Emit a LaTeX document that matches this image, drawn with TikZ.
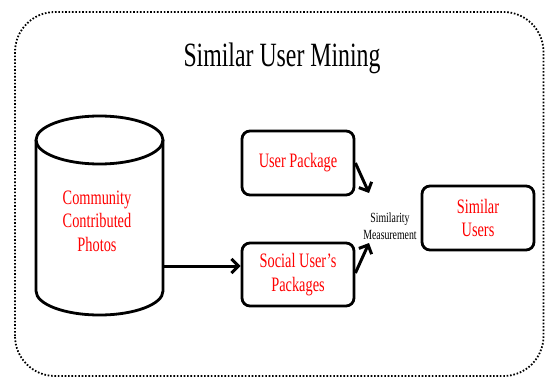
\documentclass[tikz,border=0pt]{standalone}
\usepackage{fontspec}
\setmainfont{Liberation Serif}[FakeStretch=0.7]
\usetikzlibrary{arrows.meta}
\begin{document}
\begin{tikzpicture}[x=1pt,y=1pt,
  box/.style={draw, line width=2.8pt, rounded corners=8pt, minimum width=112pt, minimum height=64pt, inner sep=0pt, align=center, text=red, font=\fontsize{20.5}{23.5}\selectfont},
  arr/.style={line width=3pt, -{Straight Barb[length=7pt,width=14pt]}},
  outer/.style={line width=1.8pt, dash pattern=on 1.6pt off 1.8pt, rounded corners=40pt}
]
\useasboundingbox (0,0) rectangle (545,378);
\draw[outer] (15,2) rectangle (543.5,366);
\node[anchor=base, font=\fontsize{34}{40}\selectfont] (title) at (282,311) {Similar User Mining};
% cylinder
\draw[line width=2.8pt] (36,238) -- (36,87) arc[start angle=180, end angle=360, x radius=63.5, y radius=24] -- (163,238);
\draw[line width=2.8pt] (99.5,238) ellipse [x radius=63.5, y radius=24];
\node[minimum width=127pt, minimum height=151pt, inner sep=0pt] (cyl) at (99.5,162.5) {};
\node[align=center, text=red, font=\fontsize{20.5}{23.5}\selectfont] (db) at (97,157) {Community\\Contributed\\Photos};
\node[box] (up) at (298,215) {User Package};
\node[box, minimum height=63pt] (social) at (298,103.5) {Social User's\\Packages};
\node[box] (sim) at (478,160) {Similar\\Users};
\node[align=center, font=\fontsize{14}{17}\selectfont, inner sep=0pt] (meas) at (390,151.5) {Similarity\\Measurement};
\coordinate (m1) at (369,185);
\coordinate (m2) at (369,135);
\draw[arr] (cyl.east |- 0,112) -- (social.west |- 0,112);
\draw[arr] (up.east |- 0,215) -- (m1);
\draw[arr] (social.east |- 0,105) -- (m2);
\end{tikzpicture}
\end{document}
